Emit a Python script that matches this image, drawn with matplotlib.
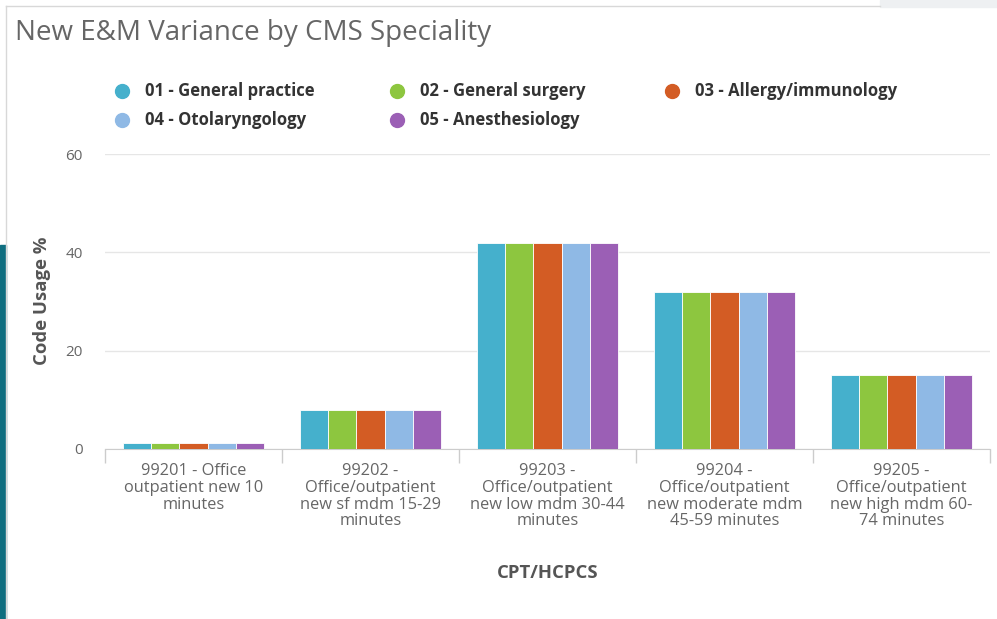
import numpy as np
import matplotlib.pyplot as plt
from matplotlib.patches import Rectangle
from matplotlib.lines import Line2D

# data
categorias = [
    "99201 - Office\noutpatient new 10\nminutes",
    "99202 -\nOffice/outpatient\nnew sf mdm 15-29\nminutes",
    "99203 -\nOffice/outpatient\nnew low mdm 30-44\nminutes",
    "99204 -\nOffice/outpatient\nnew moderate mdm\n45-59 minutes",
    "99205 -\nOffice/outpatient\nnew high mdm 60-\n74 minutes",
]
especialidades = [
    "01 - General practice",
    "02 - General surgery",
    "03 - Allergy/immunology",
    "04 - Otolaryngology",
    "05 - Anesthesiology",
]
general_practice = [1.2, 8, 42, 32, 15]
general_surgery = [1.2, 8, 42, 32, 15]
allergy_immunology = [1.2, 8, 42, 32, 15]
otolaryngology = [1.2, 8, 42, 32, 15]
anesthesiology = [1.2, 8, 42, 32, 15]
series = [general_practice, general_surgery, allergy_immunology,
          otolaryngology, anesthesiology]
cores = ["#45b0cc", "#8dc63f", "#d35c24", "#8fb9e5", "#9b5fb5"]

plt.rcParams["font.family"] = ["Open Sans", "DejaVu Sans"]

fig = plt.figure(figsize=(9.97, 6.19), dpi=100)
W, H = 997, 619

# =========================
# MOLDURA DA PAGINA
# =========================
fig.patches.append(Rectangle((880 / W, 1 - 7 / H), 117 / W, 7 / H,
                             transform=fig.transFigure, color="#eef0f2", zorder=0))
fig.lines.append(Line2D([6 / W, 880 / W], [1 - 6 / H, 1 - 6 / H],
                        transform=fig.transFigure, color="#d8d8d8", lw=1))
fig.lines.append(Line2D([6 / W, 6 / W], [1 - 6 / H, 0],
                        transform=fig.transFigure, color="#d8d8d8", lw=1))
fig.patches.append(Rectangle((0, 0), 6 / W, 1 - 245 / H,
                             transform=fig.transFigure, color="#0e6e80", zorder=1))

fig.text(15 / W, 1 - 33 / H, "New E&M Variance by CMS Speciality",
         fontsize=20, color="#666666", va="center", ha="left")

# =========================
# EIXOS
# =========================
ax = fig.add_axes([105 / W, 1 - 449 / H, 885 / W, 295 / H])
x = np.arange(len(categorias))
n = len(series)
largura = 0.8 / n
for i, (vals, cor, nome) in enumerate(zip(series, cores, especialidades)):
    ax.bar(x - 0.4 + largura * (i + 0.5), vals, largura, color=cor,
           edgecolor="white", linewidth=0.6, label=nome, zorder=3)

ax.set_xlim(-0.5, len(categorias) - 0.5)
ax.set_ylim(0, 60)
ax.set_yticks([0, 20, 40, 60])
ax.yaxis.grid(True, color="#e6e6e6", lw=1, zorder=0)
for s in ["top", "right", "left"]:
    ax.spines[s].set_visible(False)
ax.spines["bottom"].set_color("#cccccc")
ax.tick_params(axis="y", length=0, pad=16, labelsize=11, labelcolor="#666666")

ax.set_xticks(x)
ax.set_xticklabels(categorias, fontsize=11.8, color="#666666", linespacing=1.07)
ax.tick_params(axis="x", length=0, pad=10)
ax.set_xticks(np.arange(-0.5, len(categorias)), minor=True)
ax.tick_params(axis="x", which="minor", length=10, color="#cccccc", width=1)

ax.set_xlabel("CPT/HCPCS", fontsize=13.3, fontweight="bold", color="#555555")
ax.xaxis.set_label_coords(0.5, -(573 - 449) / 295)
ax.xaxis.label.set_va("center")
ax.set_ylabel("Code Usage %", fontsize=13.3, fontweight="bold", color="#555555")
ax.yaxis.set_label_coords(-(105 - 42) / 885, (449 - 301) / 295)
ax.yaxis.label.set_va("center")

# =========================
# LEGENDA
# =========================
pos_leg = [(122, 91), (397, 91), (672, 91), (122, 120), (397, 120)]
for (px, py), cor, nome in zip(pos_leg, cores, especialidades):
    fig.lines.append(Line2D([px / W], [1 - py / H], marker="o", markersize=10,
                            color=cor, transform=fig.transFigure))
    fig.text((px + 23) / W, 1 - py / H, nome, fontsize=12, fontweight="bold",
             color="#333333", va="center", ha="left")

fig.savefig("out.png", dpi=100)
